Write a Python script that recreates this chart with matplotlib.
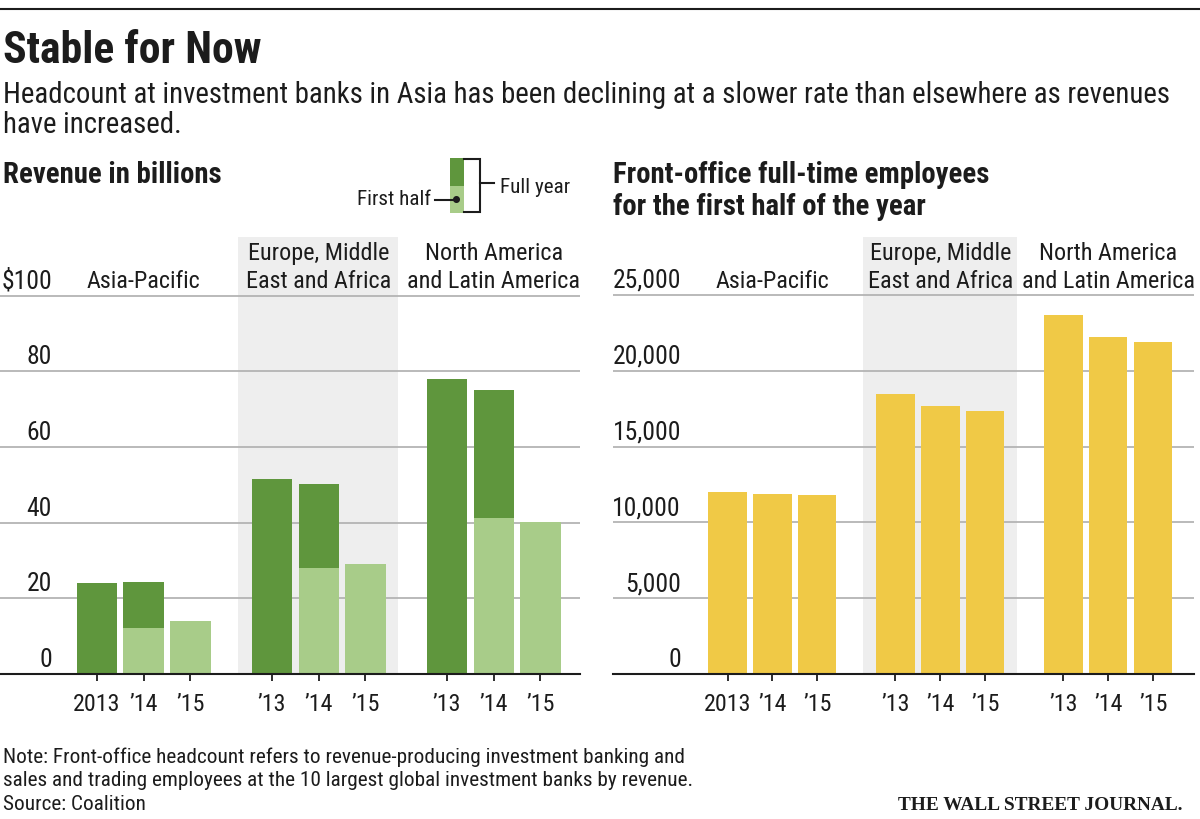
import matplotlib
matplotlib.use("Agg")
import matplotlib.pyplot as plt
from matplotlib import font_manager as fm
from matplotlib import transforms as mtrans
from matplotlib.patches import Rectangle, Circle

# ---------------- data ----------------
regions = [["Asia-Pacific"],
           ["Europe, Middle", "East and Africa"],
           ["North America", "and Latin America"]]
year_labels = [["2013", "\u201914", "\u201915"],
               ["\u201913", "\u201914", "\u201915"],
               ["\u201913", "\u201914", "\u201915"]]
# revenue, $ billions (None = not shown)
rev_full_year = [[24.0, 24.3, None],
                 [51.6, 50.3, None],
                 [78.0, 75.0, None]]
rev_first_half = [[None, 12.1, 14.0],
                  [None, 28.0, 29.1],
                  [None, 41.1, 40.2]]
# front-office employees, first half
headcount = [[11980, 11850, 11780],
             [18460, 17690, 17320],
             [23650, 22220, 21870]]
rev_ticks = [0, 20, 40, 60, 80, 100]
rev_tick_labels = ["0", "20", "40", "60", "80", "$100"]
hc_ticks = [0, 5000, 10000, 15000, 20000, 25000]
hc_tick_labels = ["0", "5,000", "10,000", "15,000", "20,000", "25,000"]

title = "Stable for Now"
subtitle = ["Headcount at investment banks in Asia has been declining at a slower rate than elsewhere as revenues",
            "have increased."]
left_head = ["Revenue in billions"]
right_head = ["Front-office full-time employees", "for the first half of the year"]
notes = ["Note: Front-office headcount refers to revenue-producing investment banking and",
         "sales and trading employees at the 10 largest global investment banks by revenue.",
         "Source: Coalition"]
brand = "THE WALL STREET JOURNAL."

# ---------------- style ----------------
DARK = "#5f963d"
LIGHT = "#a8cc89"
YELLOW = "#f0c946"
SHADE = "#eeeeee"
GRID = "#b4b4b4"
INK = "#1c1c1c"


def have(name):
    try:
        fm.findfont(fm.FontProperties(family=name), fallback_to_default=False)
        return True
    except Exception:
        return False


FONT = next((f for f in ["Liberation Sans Narrow", "Roboto Condensed", "Roboto", "Liberation Sans"] if have(f)),
            "DejaVu Sans")
SERIF = next((f for f in ["Liberation Serif", "DejaVu Serif"] if have(f)), "serif")
plt.rcParams["font.family"] = [FONT, "DejaVu Sans"]

W, H = 1200, 820
fig = plt.figure(figsize=(W / 100, H / 100), dpi=100)
fig.patch.set_facecolor("white")
renderer = fig.canvas.get_renderer()

GAP = 3.74
pos = [[g * GAP + i for i in range(3)] for g in range(3)]
flat_pos = [p for grp in pos for p in grp]


def rect(x0, x1, ytop, ybot):
    return [x0 / W, 1 - ybot / H, (x1 - x0) / W, (ybot - ytop) / H]


def fit_size(s, target_w, **kw):
    t = fig.text(0, 0, s, fontsize=10, **kw)
    w = t.get_window_extent(renderer=renderer).width
    t.remove()
    return 10 * target_w / w


SZ_TITLE = fit_size(title, 258, fontweight="bold")
SZ_SUB = fit_size(subtitle[0], 1155)
SZ_HEAD = fit_size(left_head[0], 218, fontweight="bold")
SZ_GROUP = fit_size("Asia-Pacific", 113)
SZ_YT = fit_size("$100", 50)
SZ_XT = fit_size("2013", 47)
SZ_LEG = fit_size("First half", 74)
SZ_NOTE = fit_size(notes[0], 678)
SZ_BRAND = fit_size(brand, 283, family=SERIF, fontweight="bold")


def setup_axis(ax, ticks, labels, xlim, ylim, label_right_px, ax_left_px, ax_w_px):
    ax.set_xlim(*xlim)
    ax.set_ylim(*ylim)
    ax.set_facecolor("none")
    for s in ["top", "left", "right"]:
        ax.spines[s].set_visible(False)
    ax.spines["bottom"].set_linewidth(1.5)
    ax.spines["bottom"].set_color(INK)
    ax.spines["bottom"].set_zorder(3)
    ax.set_axisbelow(True)
    ax.set_yticks(ticks)
    ax.yaxis.grid(True, color=GRID, linewidth=1.3)
    ax.tick_params(axis="y", length=0, labelleft=False)
    ax.set_xticks(flat_pos)
    ax.tick_params(axis="x", length=5.2, width=1.3, color=INK, labelbottom=False, direction="out")
    # y tick labels above the gridlines
    tr = mtrans.blended_transform_factory(ax.transAxes, ax.transData)
    tr = mtrans.offset_copy(tr, fig=fig, y=8, units="dots")
    xa = (label_right_px - ax_left_px) / ax_w_px
    for v, lab in zip(ticks, labels):
        ax.text(xa, v, lab, transform=tr, ha="right", va="baseline",
                fontsize=SZ_YT, color=INK)
    # x tick labels
    trx = mtrans.offset_copy(ax.transData, fig=fig, y=-36, units="dots")
    for g in range(3):
        for i in range(3):
            ax.text(pos[g][i], 0, year_labels[g][i], transform=trx, ha="center",
                    va="baseline", fontsize=SZ_XT, color=INK)
    # shading for middle group
    ax.axvspan(pos[1][0] - 0.73, pos[1][2] + 0.7, ymin=0, ymax=1, color=SHADE, zorder=0, lw=0)
    # group labels
    for g in range(3):
        cx = pos[g][1]
        lines = regions[g]
        trg = mtrans.blended_transform_factory(ax.transData, ax.transAxes)
        for k, line in enumerate(reversed(lines)):
            tt = mtrans.offset_copy(trg, fig=fig, y=-(288 - 238) + 28 * k, units="dots")
            ax.text(cx, 1, line, transform=tt, ha="center", va="baseline",
                    fontsize=SZ_GROUP, color=INK)


# ---------------- left panel: revenue ----------------
axL = fig.add_axes(rect(0, 580, 238, 675))
px_per_unit_L = 75.7 / 20
setup_axis(axL, rev_ticks, rev_tick_labels,
           (-96.8 / 46.8, (580 - 96.8) / 46.8), (0, 437 / px_per_unit_L),
           52, 0, 580)
for g in range(3):
    for i in range(3):
        fy = rev_full_year[g][i]
        fh = rev_first_half[g][i]
        if fy is not None:
            axL.bar(pos[g][i], fy, width=0.86, color=DARK, zorder=2, lw=0)
        if fh is not None:
            axL.bar(pos[g][i], fh, width=0.86, color=LIGHT, zorder=2.1, lw=0)

# ---------------- right panel: headcount ----------------
axR = fig.add_axes(rect(613, 1194, 238, 675))
px_per_unit_R = 75.8 / 5000
setup_axis(axR, hc_ticks, hc_tick_labels,
           (-(727.5 - 613) / 44.9, (1194 - 727.5) / 44.9), (0, 437 / px_per_unit_R),
           681, 613, 581)
for g in range(3):
    axR.bar(pos[g], headcount[g], width=0.855, color=YELLOW, zorder=2, lw=0)

# ---------------- overlay for text ----------------
ov = fig.add_axes([0, 0, 1, 1], zorder=10)
ov.set_xlim(0, W)
ov.set_ylim(H, 0)
ov.axis("off")
ov.patch.set_visible(False)

ov.plot([0, W], [10, 10], color=INK, lw=1.5, solid_capstyle="butt")
ov.text(3, 63, title, fontsize=SZ_TITLE, fontweight="bold", color=INK, va="baseline")
for k, line in enumerate(subtitle):
    ov.text(3, 103 + 30 * k, line, fontsize=SZ_SUB, color=INK, va="baseline")
ov.text(3, 183, left_head[0], fontsize=SZ_HEAD, fontweight="bold", color=INK, va="baseline")
for k, line in enumerate(right_head):
    ov.text(613, 183 + 32 * k, line, fontsize=SZ_HEAD, fontweight="bold", color=INK, va="baseline")

# legend key
ov.add_patch(Rectangle((450, 159), 14, 27.5, color=DARK, lw=0))
ov.add_patch(Rectangle((450, 186.5), 14, 27, color=LIGHT, lw=0))
ov.plot([464, 480, 480, 464], [159.5, 159.5, 213, 213], color=INK, lw=1.5, solid_joinstyle="miter")
ov.plot([480, 494], [184, 184], color=INK, lw=1.5)
ov.text(500, 193, "Full year", fontsize=SZ_LEG, color=INK, va="baseline")
ov.text(431, 205, "First half", fontsize=SZ_LEG, color=INK, va="baseline", ha="right")
ov.plot([435, 456.5], [200.5, 200.5], color=INK, lw=1.5)
ov.add_patch(Circle((456.5, 200.5), 2.8, color=INK))

for k, line in enumerate(notes):
    ov.text(3, 763 + 23.5 * k, line, fontsize=SZ_NOTE, color=INK, va="baseline")
ov.text(1183, 810, brand, fontsize=SZ_BRAND, family=SERIF, fontweight="bold",
        color=INK, va="baseline", ha="right")

fig.savefig("out.png", dpi=100, facecolor="white")
